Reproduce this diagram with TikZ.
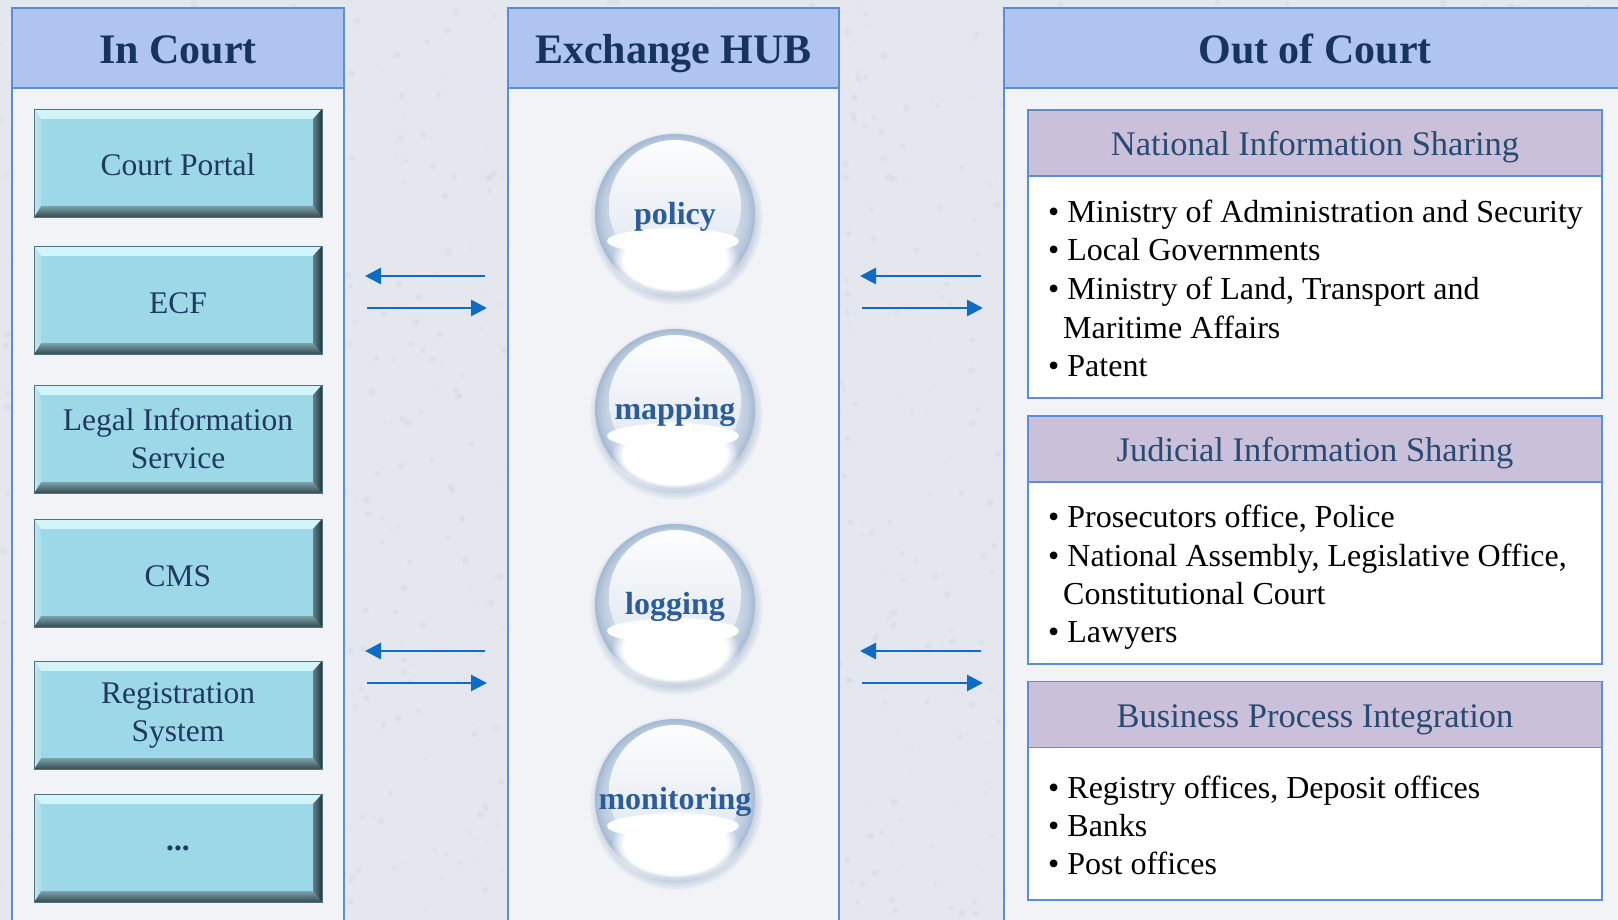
\documentclass[tikz,border=0pt]{standalone}
\usepackage{fontspec}
\setmainfont{Liberation Serif}
\usetikzlibrary{arrows.meta,fadings}

\definecolor{bgc}{HTML}{E4E8EE}
\definecolor{panelc}{HTML}{F1F3F7}
\definecolor{headc}{HTML}{AFC5F0}
\definecolor{linec}{HTML}{5A8FD8}
\definecolor{titlec}{HTML}{17355C}
\definecolor{boxfill}{HTML}{9DD8E8}
\definecolor{boxline}{HTML}{4F7380}
\definecolor{boxtext}{HTML}{1F3A5C}
\definecolor{secfill}{HTML}{CBC0DA}
\definecolor{sectext}{HTML}{294A72}
\definecolor{arrowc}{HTML}{0F6CC4}
\definecolor{balltext}{HTML}{2D5D98}
\definecolor{sphmid}{HTML}{DDE5EF}
\definecolor{sphedge}{HTML}{BACADD}
\definecolor{sphrim}{HTML}{A3B8D2}
\definecolor{shadowc}{HTML}{8FA6C2}
\definecolor{speck}{HTML}{C3CAD6}

\pgfdeclareradialshading{glass}{\pgfpoint{0bp}{0bp}}{color(0bp)=(sphmid); color(17bp)=(sphmid); color(23bp)=(sphedge); color(25bp)=(sphrim); color(50bp)=(sphrim)}

\tikzset{
  panelbody/.style={rectangle, inner sep=0pt, fill=panelc, draw=linec, line width=1.6pt},
  panelhead/.style={rectangle, inner sep=0pt, fill=headc, draw=linec, line width=1.6pt,
    minimum height=80pt, text=titlec, font=\fontsize{42}{48}\selectfont\bfseries,
    text height=32pt, text depth=0pt},
  cbox/.style={rectangle, inner sep=0pt, minimum width=288pt, minimum height=108pt,
    fill=boxfill, draw=boxline, line width=0.6pt, text=boxtext,
    font=\fontsize{31.5}{38}\selectfont, align=center,
    path picture={
      \shade[top color=cyan!10!white!75!boxfill, bottom color=cyan!20!white!55!boxfill]
        (path picture bounding box.north west) -- (path picture bounding box.north east)
        -- ([xshift=-9pt,yshift=-10pt]path picture bounding box.north east)
        -- ([xshift=7pt,yshift=-10pt]path picture bounding box.north west) -- cycle;
      \shade[top color=boxfill!70!black!90!white, bottom color=boxfill!35!black]
        (path picture bounding box.south west) -- (path picture bounding box.south east)
        -- ([xshift=-9pt,yshift=11pt]path picture bounding box.south east)
        -- ([xshift=7pt,yshift=11pt]path picture bounding box.south west) -- cycle;
      \shade[left color=boxfill!60!black, right color=boxfill!25!black]
        (path picture bounding box.north east) -- (path picture bounding box.south east)
        -- ([xshift=-9pt,yshift=11pt]path picture bounding box.south east)
        -- ([xshift=-9pt,yshift=-10pt]path picture bounding box.north east) -- cycle;
      \shade[left color=boxfill!60!white, right color=boxfill!90!white]
        (path picture bounding box.north west) -- (path picture bounding box.south west)
        -- ([xshift=7pt,yshift=11pt]path picture bounding box.south west)
        -- ([xshift=7pt,yshift=-10pt]path picture bounding box.north west) -- cycle;
    }},
  cone/.style={cbox, text height=26pt, text depth=0pt},
  secbody/.style={rectangle, inner sep=0pt, fill=white, draw=linec, line width=1.8pt, minimum width=574pt},
  sechead/.style={rectangle, inner sep=0pt, fill=secfill, draw=linec, line width=1.8pt,
    minimum width=574pt, minimum height=66pt, text=sectext,
    font=\fontsize{34.5}{40}\selectfont, text height=25.5pt, text depth=0pt},
  bul/.style={anchor=base west, inner sep=0pt, font=\fontsize{32}{38}\selectfont, text=black},
  balltxt/.style={inner sep=0pt, text=balltext, font=\fontsize{32}{38}\selectfont\bfseries,
    text height=21pt, text depth=0pt},
  arr/.style={draw=arrowc, line width=2.9pt, -{Triangle[length=16pt,width=16pt]}}
}

\newcommand{\glassball}[4]{%
  \begin{scope}[shift={(#2,#3)}]
    \fill[shadowc, opacity=0.6, path fading=circle with fuzzy edge 15 percent] (1,4) circle (87pt);
    \shade[shading=glass] (0,0) circle (80pt);
    \shade[top color=white!94!sphmid, bottom color=sphmid] (0,-8) circle (66pt);
    \fill[white, path fading=circle with fuzzy edge 20 percent] (0,46) ellipse [x radius=64pt, y radius=36pt];
    \fill[white, opacity=0.95] (-2,27) ellipse [x radius=66pt, y radius=12.5pt];
    \node[balltxt] (#1) at (0,0) {#4};
  \end{scope}}

\begin{document}
\begin{tikzpicture}[x=1pt,y=-1pt]
\useasboundingbox (0,0) rectangle (1618,920);
\fill[bgc] (0,0) rectangle (1618,920);
\pgfmathsetseed{7}
\foreach \i in {1,...,1400}{
  \pgfmathsetmacro{\px}{rnd*1618}\pgfmathsetmacro{\py}{rnd*920}\pgfmathsetmacro{\pr}{1+rnd*3}
  \fill[speck, opacity=0.22] (\px,\py) circle (\pr pt);
}

% ---- panels
\node[panelbody, minimum width=332pt, minimum height=930pt] (inbody) at (178,473) {};
\node[panelhead, minimum width=332pt] (inhead) at (178,48) {In Court};
\node[panelbody, minimum width=331pt, minimum height=930pt] (hubbody) at (673.5,473) {};
\node[panelhead, minimum width=331pt] (hubhead) at (673.5,48) {Exchange HUB};
\node[panelbody, minimum width=622pt, minimum height=930pt] (outbody) at (1315,473) {};
\node[panelhead, minimum width=622pt] (outhead) at (1315,48) {Out of Court};

% ---- in court boxes
\node[cone] (portal) at (178,163) {Court Portal};
\node[cone] (ecf) at (178,300) {ECF};
\node[cbox] (legal) at (178,439) {Legal Information\\Service};
\node[cone] (cms) at (178,573) {CMS};
\node[cbox] (reg) at (178,715) {Registration\\System};
\node[cbox] (more) at (178,848) {\textbf{...}};

% ---- hub spheres
\glassball{policy}{675}{214}{policy}
\glassball{mapping}{675}{409}{mapping}
\glassball{logging}{675}{604}{logging}
\glassball{monitoring}{675}{799}{monitoring}

% ---- arrows
\coordinate (l1a) at (485,276); \coordinate (l1b) at (365,276);
\coordinate (l2a) at (367,308); \coordinate (l2b) at (487,308);
\coordinate (l3a) at (485,651); \coordinate (l3b) at (365,651);
\coordinate (l4a) at (367,683); \coordinate (l4b) at (487,683);
\coordinate (r1a) at (981,276); \coordinate (r1b) at (860,276);
\coordinate (r2a) at (862,308); \coordinate (r2b) at (983,308);
\coordinate (r3a) at (981,651); \coordinate (r3b) at (860,651);
\coordinate (r4a) at (862,683); \coordinate (r4b) at (983,683);
\draw[arr] (l1a) -- (l1b);
\draw[arr] (l2a) -- (l2b);
\draw[arr] (l3a) -- (l3b);
\draw[arr] (l4a) -- (l4b);
\draw[arr] (r1a) -- (r1b);
\draw[arr] (r2a) -- (r2b);
\draw[arr] (r3a) -- (r3b);
\draw[arr] (r4a) -- (r4b);

% ---- out of court sections
\node[secbody, minimum height=288pt] (natbody) at (1315,254) {};
\node[sechead] (nathead) at (1315,143) {National Information Sharing};
\node[bul] (nat1) at (1048,223) {• Ministry of Administration and Security};
\node[bul] (nat2) at (1048,261) {• Local Governments};
\node[bul] (nat3) at (1048,300) {• Ministry of Land, Transport and};
\node[bul] (nat4) at (1063,338) {Maritime Affairs};
\node[bul] (nat5) at (1048,376) {• Patent};

\node[secbody, minimum height=247pt] (judbody) at (1315,540.5) {};
\node[sechead] (judhead) at (1315,449) {Judicial Information Sharing};
\node[bul] (jud1) at (1048,527) {• Prosecutors office, Police};
\node[bul] (jud2) at (1048,566) {• National Assembly, Legislative Office,};
\node[bul] (jud3) at (1063,604) {Constitutional Court};
\node[bul] (jud4) at (1048,642) {• Lawyers};

\node[secbody, minimum height=218pt] (busbody) at (1315,791) {};
\node[sechead] (bushead) at (1315,714.5) {Business Process Integration};
\node[bul] (bus1) at (1048,798) {• Registry offices, Deposit offices};
\node[bul] (bus2) at (1048,836) {• Banks};
\node[bul] (bus3) at (1048,874) {• Post offices};
\end{tikzpicture}
\end{document}
